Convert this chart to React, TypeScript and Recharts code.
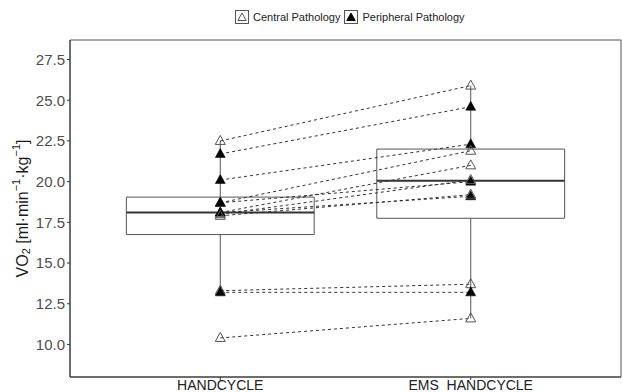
import React from "react"
import { ComposedChart, ReferenceArea, ReferenceLine, Scatter, XAxis, YAxis } from "recharts"

const conditions = ["HANDCYCLE", "EMS  HANDCYCLE"]
const pathologies = ["Central Pathology", "Peripheral Pathology"]

// one entry per subject, same order in every array
const group = [0, 1, 1, 0, 0, 1, 0, 1, 0, 0, 1, 0]
const handcycle = [22.5, 21.7, 20.1, 18.7, 18.1, 18.7, 18.0, 18.1, 17.9, 13.3, 13.2, 10.4]
const emsHandcycle = [25.9, 24.6, 22.3, 21.9, 21.0, 20.0, 20.1, 19.1, 19.2, 13.7, 13.2, 11.6]

const yTicks = [10, 12.5, 15, 17.5, 20, 22.5, 25, 27.5]

const font = "'Liberation Sans', Arial, sans-serif"

function boxStats(values: number[]) {
  const s = [...values].sort((a, b) => a - b)
  const q = (p: number) => {
    const h = (s.length - 1) * p
    const lo = Math.floor(h)
    const hi = Math.min(lo + 1, s.length - 1)
    return s[lo] + (h - lo) * (s[hi] - s[lo])
  }
  const q1 = q(0.25)
  const med = q(0.5)
  const q3 = q(0.75)
  const iqr = q3 - q1
  const lo = Math.min(...s.filter((v) => v >= q1 - 1.5 * iqr - 1e-9))
  const hi = Math.max(...s.filter((v) => v <= q3 + 1.5 * iqr + 1e-9))
  return { q1, med, q3, lo, hi }
}

const stats = [handcycle, emsHandcycle].map(boxStats)

const OpenTri = (props: any) => {
  const { cx, cy } = props
  return (
    <polygon
      points={`${cx},${cy - 5.5} ${cx - 5},${cy + 3.5} ${cx + 5},${cy + 3.5}`}
      fill="none"
      stroke="#555"
      strokeWidth={1}
    />
  )
}

const FilledTri = (props: any) => {
  const { cx, cy } = props
  return (
    <polygon
      points={`${cx},${cy - 5.5} ${cx - 5},${cy + 3.5} ${cx + 5},${cy + 3.5}`}
      fill="#000"
      stroke="#000"
      strokeWidth={0.5}
    />
  )
}

const XTick = (props: any) => {
  const { x, y, payload } = props
  return (
    <text
      x={x}
      y={y}
      dy="0.71em"
      textAnchor="middle"
      fontSize={14}
      fill="#222"
      fontFamily={font}
      xmlSpace="preserve"
      style={{ whiteSpace: "pre" }}
    >
      {conditions[payload.value]}
    </text>
  )
}

const YLabel = (props: any) => {
  const vb = props.viewBox || { y: 40, height: 337 }
  const cy = vb.y + vb.height / 2
  return (
    <text
      transform={`translate(22,${cy}) rotate(-90)`}
      textAnchor="middle"
      dominantBaseline="central"
      fontSize={16}
      fill="#1a1a1a"
      fontFamily={font}
    >
      VO
      <tspan fontSize={11} dy={4}>2</tspan>
      <tspan dy={-4}> [ml·min</tspan>
      <tspan fontSize={11} dy={-6}>−1</tspan>
      <tspan dy={6}>·kg</tspan>
      <tspan fontSize={11} dy={-6}>−1</tspan>
      <tspan dy={6}>]</tspan>
    </text>
  )
}

const LegendKey = ({ filled }: { filled: boolean }) => (
  <svg width={14} height={14} style={{ display: "block" }}>
    <rect x={0.5} y={0.5} width={13} height={13} fill="#fff" stroke="#555" strokeWidth={1} />
    <polygon
      points="7,3 2.8,10.5 11.2,10.5"
      fill={filled ? "#000" : "none"}
      stroke={filled ? "#000" : "#555"}
      strokeWidth={1}
    />
  </svg>
)

export default function App() {
  return (
    <div style={{ position: "absolute", left: 0, top: 0, width: 623, height: 392, fontFamily: font }}>
      <div
        style={{
          position: "absolute",
          left: 235,
          top: 10,
          display: "flex",
          alignItems: "center",
          fontSize: 11,
          color: "#222",
          whiteSpace: "nowrap",
        }}
      >
        {pathologies.map((name, i) => (
          <div key={name} style={{ display: "flex", alignItems: "center", marginRight: 4 }}>
            <LegendKey filled={i === 1} />
            <span style={{ marginLeft: 4 }}>{name}</span>
          </div>
        ))}
      </div>
      <ComposedChart width={623} height={392} margin={{ top: 40, right: 2, bottom: 0, left: 0 }}>
        <XAxis
          type="number"
          dataKey="x"
          domain={[-0.6, 1.6]}
          ticks={[0, 1]}
          interval={0}
          allowDataOverflow
          height={15}
          tickSize={3}
          tickMargin={0}
          axisLine={{ stroke: "#333" }}
          tickLine={{ stroke: "#333" }}
          tick={<XTick />}
        />
        <YAxis
          type="number"
          dataKey="y"
          domain={[8.0, 28.7]}
          ticks={yTicks}
          interval={0}
          allowDataOverflow
          width={70}
          tickSize={3}
          tickMargin={2}
          tickFormatter={(v: number) => v.toFixed(1)}
          axisLine={{ stroke: "#333" }}
          tickLine={{ stroke: "#333" }}
          tick={{ fill: "#4d4d4d", fontSize: 15, fontFamily: font }}
          label={{ content: YLabel }}
        />
        <ReferenceArea
          x1={-0.6}
          x2={1.6}
          y1={8.0}
          y2={28.7}
          fill="none"
          fillOpacity={0}
          stroke="#555"
          strokeWidth={1}
          ifOverflow="visible"
        />
        {stats.map((s, i) => (
          <ReferenceArea
            key={`box-${i}`}
            x1={i - 0.375}
            x2={i + 0.375}
            y1={s.q1}
            y2={s.q3}
            fill="none"
            fillOpacity={0}
            stroke="#555"
            strokeWidth={1}
          />
        ))}
        {stats.map((s, i) => (
          <ReferenceLine
            key={`med-${i}`}
            segment={[{ x: i - 0.375, y: s.med }, { x: i + 0.375, y: s.med }]}
            stroke="#333"
            strokeWidth={2}
          />
        ))}
        {stats.map((s, i) => (
          <ReferenceLine
            key={`wlo-${i}`}
            segment={[{ x: i, y: s.lo }, { x: i, y: s.q1 }]}
            stroke="#555"
            strokeWidth={1}
          />
        ))}
        {stats.map((s, i) => (
          <ReferenceLine
            key={`whi-${i}`}
            segment={[{ x: i, y: s.q3 }, { x: i, y: s.hi }]}
            stroke="#555"
            strokeWidth={1}
          />
        ))}
        {handcycle.map((pre, i) => (
          <Scatter
            key={`subj-${i}`}
            data={[
              { x: 0, y: pre },
              { x: 1, y: emsHandcycle[i] },
            ]}
            dataKey="y"
            line={{ stroke: "#333", strokeDasharray: "3 3", strokeWidth: 1 }}
            shape={group[i] === 0 ? OpenTri : FilledTri}
            isAnimationActive={false}
          />
        ))}
      </ComposedChart>
    </div>
  )
}
